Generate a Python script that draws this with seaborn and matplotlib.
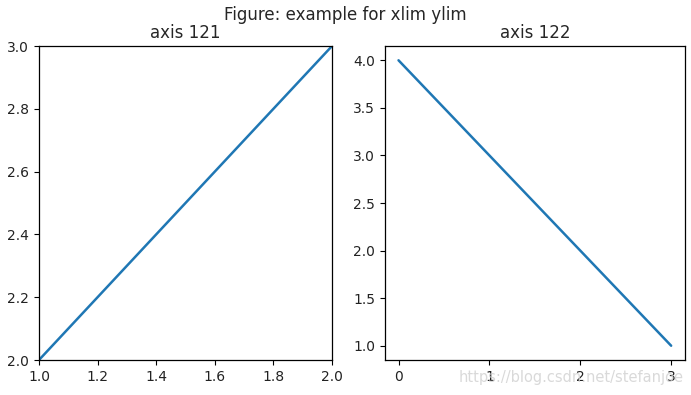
import matplotlib
matplotlib.use("Agg")
import matplotlib.pyplot as plt
import seaborn as sns
import pandas as pd

x_vals = [0, 1, 2, 3]
y_left = [1, 2, 3, 4]
y_right = [4, 3, 2, 1]
left_xlim = (1.0, 2.0)
left_ylim = (2.0, 3.0)

sns.set_style("ticks")
plt.rcParams['font.family'] = ['DejaVu Sans']

fig = plt.figure(figsize=(6.91, 3.95), dpi=100)
ax1 = fig.add_axes([0.0564, 0.0886, 0.4241, 0.7949])
ax2 = fig.add_axes([0.557, 0.0886, 0.434, 0.7949])

df1 = pd.DataFrame({"x": x_vals, "y": y_left})
df2 = pd.DataFrame({"x": x_vals, "y": y_right})

sns.lineplot(data=df1, x="x", y="y", ax=ax1, color="#1f77b4", linewidth=1.8)
ax1.set_xlim(*left_xlim)
ax1.set_ylim(*left_ylim)
ax1.set_title("axis 121", fontsize=12)

sns.lineplot(data=df2, x="x", y="y", ax=ax2, color="#1f77b4", linewidth=1.8)
ax2.set_title("axis 122", fontsize=12)
ax2.set_xticks([0, 1, 2, 3])

for ax in (ax1, ax2):
    ax.set_xlabel("")
    ax.set_ylabel("")
    ax.tick_params(labelsize=10, color="black", labelcolor="#222222")
    for s in ax.spines.values():
        s.set_visible(True)
        s.set_color("black")
        s.set_linewidth(0.9)

fig.suptitle("Figure: example for xlim ylim", fontsize=12, y=0.985)
fig.text(0.99, 0.045, "https://blog.csdn.net/stefanjoe", ha="right", va="center",
         fontsize=10.5, color="#d0d0d0", alpha=0.8)

fig.savefig("out.png", dpi=100, facecolor="white")
